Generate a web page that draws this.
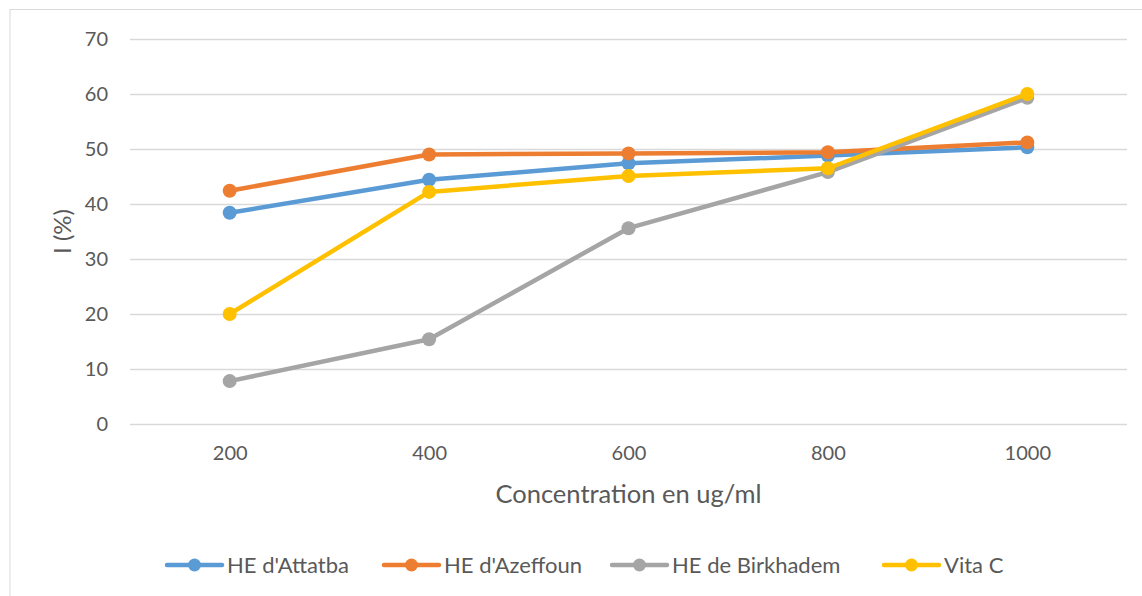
<!DOCTYPE html>
<html>
<head>
<meta charset="utf-8">
<script src="https://cdn.jsdelivr.net/npm/d3@7"></script>
<style>
  body { margin: 0; background: #fff; }
  svg { display: block; font-family: Lato, 'Open Sans', sans-serif; }
  .axis text { fill: #595959; }
</style>
</head>
<body>
<div id="chart"></div>
<script>
const concentrations = ['200', '400', '600', '800', '1000']
const attatba = [38.4, 44.4, 47.4, 48.8, 50.3]
const azeffoun = [42.4, 49.0, 49.2, 49.4, 51.2]
const birkhadem = [7.8, 15.4, 35.6, 45.8, 59.3]
const vitaC = [20.0, 42.2, 45.1, 46.5, 60.0]
const seriesNames = ["HE d'Attatba", "HE d'Azeffoun", 'HE de Birkhadem', 'Vita C']
const seriesColors = ['#5b9bd5', '#ed7d31', '#a5a5a5', '#ffc000']
const yTicks = [0, 10, 20, 30, 40, 50, 60, 70]

const series = [attatba, azeffoun, birkhadem, vitaC].map((values, i) => ({
  name: seriesNames[i],
  color: seriesColors[i],
  values: values
}))

const W = 1142
const H = 596
const plot = { left: 130, right: 1127, top: 39, bottom: 424 }

const svg = d3
  .select('#chart')
  .append('svg')
  .attr('width', W)
  .attr('height', H)

// chart border (Excel style)
svg
  .append('rect')
  .attr('x', 10)
  .attr('y', 9.5)
  .attr('width', W)
  .attr('height', H)
  .attr('fill', 'none')
  .attr('stroke', '#d9d9d9')
  .attr('stroke-width', 1)

const x = d3
  .scalePoint()
  .domain(concentrations)
  .range([plot.left, plot.right])
  .padding(0.5)

const y = d3
  .scaleLinear()
  .domain([0, 70])
  .range([plot.bottom, plot.top])

// gridlines + y labels
const yAxis = d3
  .axisLeft(y)
  .tickValues(yTicks)
  .tickSize(-(plot.right - plot.left))
  .tickPadding(22)

svg
  .append('g')
  .attr('class', 'axis y-axis')
  .attr('transform', 'translate(' + plot.left + ',0)')
  .call(yAxis)
  .call(g => g.select('.domain').remove())
  .call(g => g.selectAll('line').attr('stroke', '#d9d9d9').attr('stroke-width', 1.3))
  .call(g => g.selectAll('text').attr('font-size', 20).attr('font-family', 'Lato, sans-serif'))

const xAxis = d3
  .axisBottom(x)
  .tickSize(0)
  .tickPadding(22)

svg
  .append('g')
  .attr('class', 'axis x-axis')
  .attr('transform', 'translate(0,' + plot.bottom + ')')
  .call(xAxis)
  .call(g => g.select('.domain').remove())
  .call(g => g.selectAll('text').attr('font-size', 20).attr('font-family', 'Lato, sans-serif'))

// axis titles
svg
  .append('text')
  .attr('x', (plot.left + plot.right) / 2)
  .attr('y', 503)
  .attr('text-anchor', 'middle')
  .attr('font-size', 25.5)
  .attr('fill', '#595959')
  .text('Concentration en ug/ml')

svg
  .append('text')
  .attr('transform', 'translate(71,' + (plot.top + plot.bottom) / 2 + ') rotate(-90)')
  .attr('text-anchor', 'middle')
  .attr('font-size', 24)
  .attr('fill', '#595959')
  .text('I (%)')

const line = d3
  .line()
  .x((d, i) => x(concentrations[i]))
  .y(d => y(d))

const groups = svg
  .selectAll('.series')
  .data(series)
  .enter()
  .append('g')
  .attr('class', 'series')

groups
  .append('path')
  .attr('d', d => line(d.values))
  .attr('fill', 'none')
  .attr('stroke', d => d.color)
  .attr('stroke-width', 4.5)
  .attr('stroke-linejoin', 'round')
  .attr('stroke-linecap', 'round')

groups
  .selectAll('circle')
  .data(d => d.values.map((v, i) => ({ v: v, i: i, color: d.color })))
  .enter()
  .append('circle')
  .attr('cx', d => x(concentrations[d.i]))
  .attr('cy', d => y(d.v))
  .attr('r', 7)
  .attr('fill', d => d.color)

// legend
const legendX = [167, 384, 612, 884]
const legend = svg
  .selectAll('.legend')
  .data(series)
  .enter()
  .append('g')
  .attr('class', 'legend')
  .attr('transform', (d, i) => 'translate(' + legendX[i] + ',565)')

legend
  .append('line')
  .attr('x1', 0)
  .attr('x2', 55)
  .attr('stroke', d => d.color)
  .attr('stroke-width', 4.5)
  .attr('stroke-linecap', 'round')

legend
  .append('circle')
  .attr('cx', 27.5)
  .attr('r', 6.5)
  .attr('fill', d => d.color)

legend
  .append('text')
  .attr('x', 60)
  .attr('y', 7.5)
  .attr('font-size', 22)
  .attr('fill', '#595959')
  .text(d => d.name)
</script>
</body>
</html>
